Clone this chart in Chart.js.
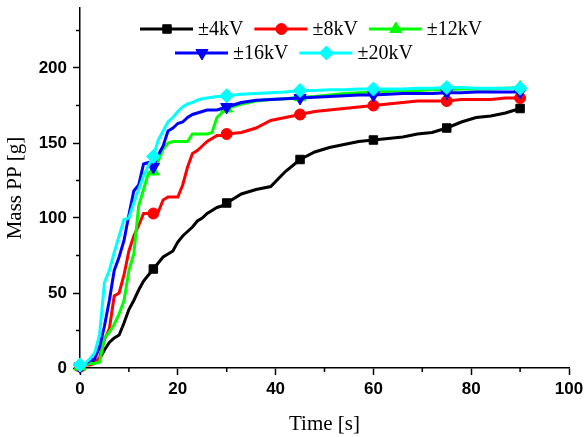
<!DOCTYPE html>
<html>
<head>
<meta charset="utf-8">
<script src="https://cdn.jsdelivr.net/npm/chart.js@4.4.0/dist/chart.umd.min.js"></script>
<style>
  body { margin: 0; background: #fff; }
</style>
</head>
<body>
<canvas id="grafica" width="585" height="437"></canvas>
<script>
const tiempo = [0, 1, 2, 3, 4, 5, 6, 7, 8, 9, 10, 11, 12, 13, 14, 15, 16, 17, 18, 19, 20,
    21, 22, 23, 24, 25, 26, 27, 28, 29, 30,
    33, 36, 39, 42, 45, 48, 51, 54, 57, 60, 63, 66, 69, 72, 75, 78, 81, 84, 87, 90];

const masa4kV = [1, 2, 3, 4, 6, 12, 17, 20, 22, 30, 39, 45, 52, 58, 62, 66, 70, 74, 76, 78, 84,
    88, 91, 94, 98, 100, 103, 105, 107, 108, 110,
    116, 119, 121, 131, 139, 144, 147, 149, 151, 152, 153, 154, 156, 157, 160, 164, 167, 168, 170, 173];
const masa8kV = [1, 2, 2, 3, 7, 19, 26, 48, 50, 62, 78, 88, 95, 103, 103, 103, 104, 112, 114, 114, 114,
    122, 134, 143, 145, 148, 151, 153, 155, 155, 156,
    157, 160, 165, 167, 169, 171, 172, 173, 174, 175, 176, 177, 178, 178, 178, 179, 179, 179, 180, 180];
const masa12kV = [1, 2, 3, 3, 4, 20, 24, 29, 36, 45, 65, 76, 108, 119, 130, 131, 138, 146, 150, 151, 151,
    151, 151, 156, 156, 156, 156, 157, 167, 170, 173,
    176, 178, 179, 179.5, 180.5, 181, 182, 183, 183.5, 184, 184.5, 185, 185, 185.5, 185.5, 186, 186, 186, 186.5, 187];
const masa16kV = [1, 2, 5, 6, 14, 28, 45, 65, 74, 85, 102, 118, 122, 136, 137, 134, 142, 148, 158, 160, 163,
    164, 167, 169, 170, 171, 172, 172, 172, 173, 174,
    177, 178.5, 179, 179.5, 180, 180.5, 181, 181.5, 182, 182, 182.5, 183, 183, 183, 183.5, 183.5, 184, 184, 184, 184];
const masa20kV = [2, 3, 6, 10, 22, 57, 65, 77, 88, 99, 100, 110, 119, 128, 135, 141, 152, 158, 164, 167, 171,
    174, 176, 177, 178.5, 179.5, 180, 180.5, 181, 181, 181.5,
    182.5, 183, 183.5, 184, 185, 185, 185.5, 185.5, 186, 186, 186, 186, 186.5, 186.5, 187, 187, 186.5, 186.5, 186.5, 186.5];

const etiquetas = ['±4kV', '±8kV', '±12kV', '±16kV', '±20kV'];
const xMarcas = [0, 20, 40, 60, 80, 100];
const yMarcas = [0, 50, 100, 150, 200];
const xMenores = [10, 30, 50, 70, 90];
const yMenores = [25, 75, 125, 175, 225];

const estilos = [
    { color: '#000000', pointStyle: 'rect', radius: 6, rotation: 0 },
    { color: '#ff0000', pointStyle: 'circle', radius: 5.5, rotation: 0 },
    { color: '#00ff00', pointStyle: 'triangle', radius: 7, rotation: 0 },
    { color: '#0000ff', pointStyle: 'triangle', radius: 7, rotation: 180 },
    { color: '#00ffff', pointStyle: 'rectRot', radius: 7, rotation: 0 }
];

const series = [masa4kV, masa8kV, masa12kV, masa16kV, masa20kV];

function serie(i) {
    const e = estilos[i];
    return {
        label: etiquetas[i],
        data: tiempo.map((t, j) => ({ x: t, y: series[i][j] })),
        borderColor: e.color,
        backgroundColor: e.color,
        borderWidth: 3,
        pointStyle: e.pointStyle,
        pointRotation: e.rotation,
        pointBackgroundColor: e.color,
        pointBorderColor: e.color,
        pointBorderWidth: 1,
        pointRadius: ctx => (tiempo[ctx.dataIndex] % 15 === 0 ? e.radius : 0),
        pointHoverRadius: 0,
        tension: 0,
        clip: false,
        order: 5 - i
    };
}

const leyenda = {
    id: 'leyenda',
    afterDraw(chart) {
        const ctx = chart.ctx;
        const area = chart.chartArea;
        const xs = chart.scales.x;
        const ys = chart.scales.y;

        // minor ticks
        ctx.save();
        ctx.strokeStyle = '#000';
        ctx.lineWidth = 1.5;
        ctx.beginPath();
        xMenores.forEach(v => {
            const px = xs.getPixelForValue(v);
            ctx.moveTo(px, area.bottom);
            ctx.lineTo(px, area.bottom + 4);
        });
        yMenores.forEach(v => {
            const py = ys.getPixelForValue(v);
            ctx.moveTo(area.left - 4, py);
            ctx.lineTo(area.left, py);
        });
        ctx.stroke();
        ctx.restore();

        // legend, two rows
        const filas = [{ y: 29, x: 140, items: [0, 1, 2] }, { y: 53, x: 175, items: [3, 4] }];
        ctx.save();
        ctx.font = '20px "Liberation Serif"';
        ctx.textBaseline = 'middle';
        ctx.textAlign = 'left';
        filas.forEach(fila => {
            let x = fila.x;
            fila.items.forEach(i => {
                const e = estilos[i];
                ctx.strokeStyle = e.color;
                ctx.fillStyle = e.color;
                ctx.lineWidth = 3;
                ctx.beginPath();
                ctx.moveTo(x, fila.y);
                ctx.lineTo(x + 53, fila.y);
                ctx.stroke();
                ctx.lineWidth = 1;
                Chart.helpers.drawPoint(ctx, {
                    pointStyle: e.pointStyle,
                    radius: e.radius,
                    rotation: e.rotation,
                    borderWidth: 1
                }, x + 27, fila.y);
                ctx.fillStyle = '#000';
                ctx.fillText(etiquetas[i], x + 58, fila.y + 1);
                x += 58 + ctx.measureText(etiquetas[i]).width + 11;
            });
        });
        ctx.restore();
    }
};

const tickFont = { family: '"Liberation Sans", Arial, sans-serif', size: 17, weight: 'bold' };
const titleFont = { family: '"Liberation Serif", "Times New Roman", serif', size: 21 };

const config = {
    type: 'line',
    data: { datasets: [0, 1, 2, 3, 4].map(serie) },
    options: {
        responsive: false,
        animation: false,
        layout: { padding: { top: 7, right: 16, left: 0, bottom: 0 } },
        plugins: {
            legend: { display: false },
            tooltip: { enabled: false }
        },
        scales: {
            x: {
                type: 'linear',
                min: 0,
                max: 100,
                afterBuildTicks: s => { s.ticks = xMarcas.map(v => ({ value: v })); },
                afterFit: s => { s.height = 69; s.paddingLeft = 0; s.paddingRight = 0; },
                ticks: { font: tickFont, color: '#000', padding: 4 },
                grid: { drawOnChartArea: false, drawTicks: true, tickLength: 7, tickColor: '#000', tickWidth: 1.5 },
                border: { color: '#000', width: 1.5 },
                title: { display: true, text: 'Time [s]', font: titleFont, color: '#000', padding: 0 }
            },
            y: {
                min: 0,
                max: 240,
                afterBuildTicks: s => { s.ticks = yMarcas.map(v => ({ value: v })); },
                afterFit: s => { s.width = 80; s.paddingTop = 0; s.paddingBottom = 0; },
                ticks: { font: tickFont, color: '#000', padding: 6 },
                grid: { drawOnChartArea: false, drawTicks: true, tickLength: 7, tickColor: '#000', tickWidth: 1.5 },
                border: { color: '#000', width: 1.5 },
                title: { display: true, text: 'Mass PP [g]', font: titleFont, color: '#000', padding: { top: 3, bottom: 0 } }
            }
        }
    },
    plugins: [leyenda]
};

const grafica = new Chart(document.getElementById('grafica'), config);
</script>
</body>
</html>
